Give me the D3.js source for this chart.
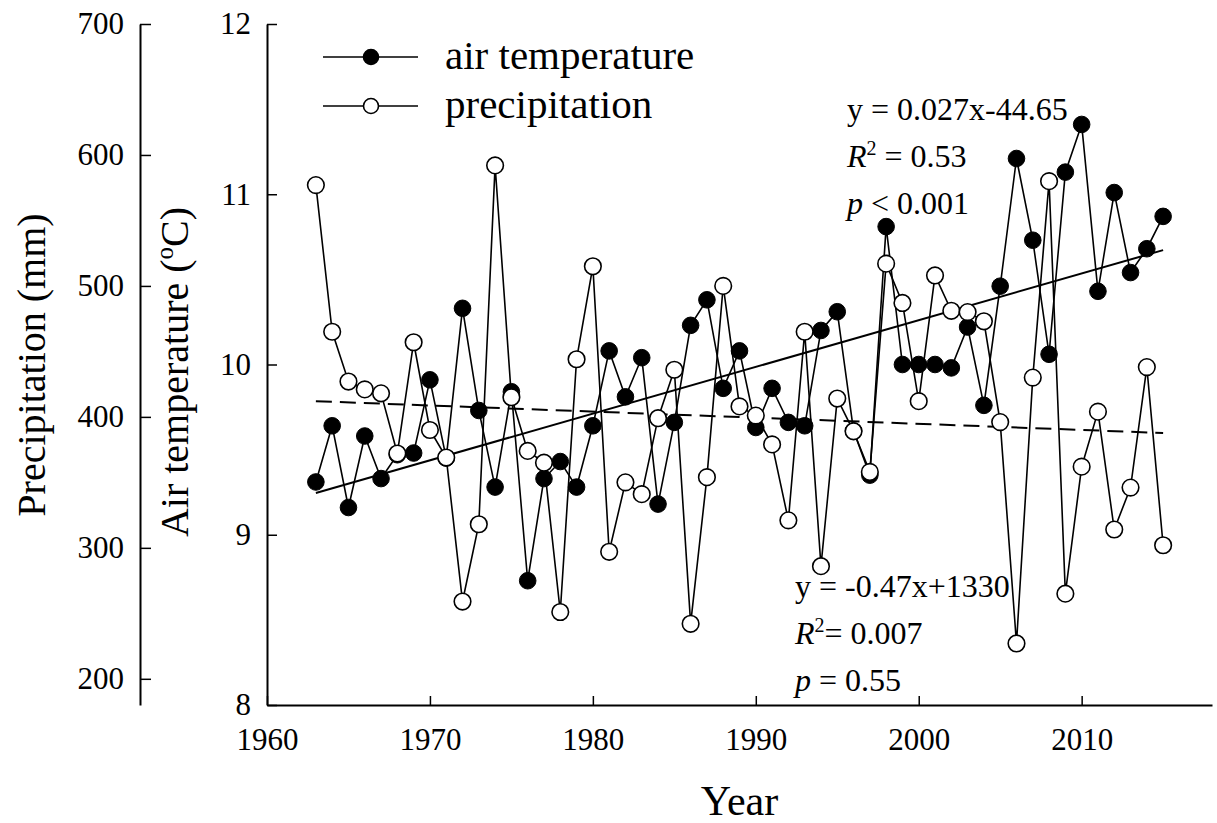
<!DOCTYPE html>
<html>
<head>
<meta charset="utf-8">
<script src="https://cdn.jsdelivr.net/npm/d3@7"></script>
<style>
  html, body { margin: 0; padding: 0; background: #fff; }
  svg, svg text { font-family: 'Liberation Serif', 'Times New Roman', serif; }
</style>
</head>
<body>
<div class="chart"></div>
<script>
const years = d3.range(1963, 2016);

// annual mean air temperature (°C)
const airTemp = [
  9.31, 9.64, 9.16, 9.58, 9.33, 9.47, 9.48, 9.91, 9.45, 10.33,
  9.73, 9.28, 9.84, 8.73, 9.33, 9.43, 9.28, 9.64, 10.08, 9.81,
  10.04, 9.18, 9.66, 10.23, 10.38, 9.86, 10.08, 9.63, 9.86, 9.66,
  9.64, 10.2, 10.31, 9.61, 9.35, 10.81, 10.0, 10.0, 10.0, 9.98,
  10.22, 9.76, 10.46, 11.21, 10.73, 10.06, 11.13, 11.41, 10.43, 11.01,
  10.54, 10.68, 10.87,
];

// annual precipitation (mm)
const precip = [
  577, 465, 427, 421, 418, 372, 457, 390, 369, 259,
  318, 592, 415, 374, 365, 251, 444, 515, 297, 350,
  341, 399, 436, 242, 354, 500, 408, 401, 379, 321,
  465, 286, 414, 389, 358, 517, 487, 412, 508, 481,
  480, 473, 396, 227, 430, 580, 265, 362, 404, 314,
  346, 438, 302,
];

const yearTicks = [1960, 1970, 1980, 1990, 2000, 2010];
const tempTicks = [8, 9, 10, 11, 12];
const precipTicks = [200, 300, 400, 500, 600, 700];

const tempFit = { eq: 'y = 0.027x-44.65', r2: ' = 0.53', p: ' < 0.001' };
const precipFit = { eq: 'y = -0.47x+1330', r2: '= 0.007', p: ' = 0.55' };

const serif = "'Liberation Serif', 'Times New Roman', serif";

function linearFit(xs, ys) {
  const mx = d3.mean(xs);
  const my = d3.mean(ys);
  const sxy = d3.sum(xs, (x, i) => (x - mx) * (ys[i] - my));
  const sxx = d3.sum(xs, (x) => (x - mx) ** 2);
  const slope = sxy / sxx;
  return (x) => my + slope * (x - mx);
}

function drawChart() {
  const width = 1217;
  const height = 823;
  const plot = { left: 267, right: 1212, top: 24, bottom: 705 };
  const precipAxisX = 140;

  const svg = d3
    .select('.chart')
    .append('svg')
    .attr('width', width)
    .attr('height', height)
    .attr('font-family', serif);

  const xScale = d3.scaleLinear().domain([1960, 2018]).range([plot.left, plot.right]);
  const tempScale = d3.scaleLinear().domain([8, 12]).range([plot.bottom, plot.top]);
  const precipScale = d3.scaleLinear().domain([180, 700]).range([plot.bottom, plot.top]);

  // axes
  const styleAxis = (g) => {
    g.attr('font-family', serif).attr('font-size', 31);
    g.select('.domain').attr('stroke', '#000').attr('stroke-width', 2);
    g.selectAll('.tick line').attr('stroke', '#000').attr('stroke-width', 1.5);
    g.selectAll('.tick text').attr('fill', '#000');
  };

  svg
    .append('g')
    .attr('transform', `translate(0, ${plot.bottom})`)
    .call(
      d3.axisBottom(xScale).tickValues(yearTicks).tickFormat(d3.format('d'))
        .tickSizeInner(-9).tickSizeOuter(0).tickPadding(23)
    )
    .call(styleAxis);

  svg
    .append('g')
    .attr('transform', `translate(${plot.left}, 0)`)
    .call(
      d3.axisLeft(tempScale).tickValues(tempTicks).tickFormat(d3.format('d'))
        .tickSizeInner(-10).tickSizeOuter(0).tickPadding(16)
    )
    .call(styleAxis);

  svg
    .append('g')
    .attr('transform', `translate(${precipAxisX}, 0)`)
    .call(
      d3.axisLeft(precipScale).tickValues(precipTicks).tickFormat(d3.format('d'))
        .tickSizeInner(-11).tickSizeOuter(0).tickPadding(16)
    )
    .call(styleAxis);

  // axis titles
  svg
    .append('text')
    .attr('transform', 'translate(45, 365) rotate(-90)')
    .attr('text-anchor', 'middle')
    .attr('font-size', 40)
    .text('Precipitation (mm)');

  const tempTitle = svg
    .append('text')
    .attr('transform', 'translate(188, 372) rotate(-90)')
    .attr('text-anchor', 'middle')
    .attr('font-size', 40);
  tempTitle.append('tspan').text('Air temperature (');
  tempTitle.append('tspan').attr('dy', -15).attr('font-size', 25).text('o');
  tempTitle.append('tspan').attr('dy', 15).text('C)');

  svg
    .append('text')
    .attr('x', (plot.left + plot.right) / 2)
    .attr('y', 815)
    .attr('text-anchor', 'middle')
    .attr('font-size', 42)
    .text('Year');

  // trend lines
  const tempTrend = linearFit(years, airTemp);
  const precipTrend = linearFit(years, precip);
  const ends = [years[0], years[years.length - 1]];

  svg
    .append('path')
    .attr('d', d3.line().x((d) => xScale(d)).y((d) => precipScale(precipTrend(d)))(ends))
    .attr('fill', 'none')
    .attr('stroke', '#000')
    .attr('stroke-width', 2)
    .attr('stroke-dasharray', '16,8');

  svg
    .append('path')
    .attr('d', d3.line().x((d) => xScale(d)).y((d) => tempScale(tempTrend(d)))(ends))
    .attr('fill', 'none')
    .attr('stroke', '#000')
    .attr('stroke-width', 2);

  // air temperature series
  const tempLine = d3.line().x((d, i) => xScale(years[i])).y((d) => tempScale(d));
  svg
    .append('path')
    .attr('d', tempLine(airTemp))
    .attr('fill', 'none')
    .attr('stroke', '#000')
    .attr('stroke-width', 1.6);

  svg
    .append('g')
    .selectAll('circle')
    .data(airTemp)
    .join('circle')
    .attr('cx', (d, i) => xScale(years[i]))
    .attr('cy', (d) => tempScale(d))
    .attr('r', 8.3)
    .attr('fill', '#000')
    .attr('stroke', '#000')
    .attr('stroke-width', 1);

  // precipitation series
  const precipLine = d3.line().x((d, i) => xScale(years[i])).y((d) => precipScale(d));
  svg
    .append('path')
    .attr('d', precipLine(precip))
    .attr('fill', 'none')
    .attr('stroke', '#000')
    .attr('stroke-width', 1.6);

  svg
    .append('g')
    .selectAll('circle')
    .data(precip)
    .join('circle')
    .attr('cx', (d, i) => xScale(years[i]))
    .attr('cy', (d) => precipScale(d))
    .attr('r', 8.3)
    .attr('fill', '#fff')
    .attr('stroke', '#000')
    .attr('stroke-width', 1.6);

  // legend
  const legendItems = [
    { label: 'air temperature', fill: '#000', y: 57 },
    { label: 'precipitation', fill: '#fff', y: 106 },
  ];
  const legend = svg.append('g').selectAll('g').data(legendItems).join('g')
    .attr('transform', (d) => `translate(323, ${d.y})`);
  legend.append('line')
    .attr('x1', 0).attr('x2', 95)
    .attr('stroke', '#000').attr('stroke-width', 1.6);
  legend.append('circle')
    .attr('cx', 48).attr('r', 7.5)
    .attr('fill', (d) => d.fill)
    .attr('stroke', '#000').attr('stroke-width', 1.6);
  legend.append('text')
    .attr('x', 122).attr('y', 12)
    .attr('font-size', 41)
    .text((d) => d.label);

  // regression annotations
  function annotate(fit, x, y0) {
    const g = svg.append('g').attr('font-size', 32);
    g.append('text').attr('x', x).attr('y', y0).text(fit.eq);
    const r = g.append('text').attr('x', x).attr('y', y0 + 47);
    r.append('tspan').attr('font-style', 'italic').text('R');
    r.append('tspan').attr('dy', -12).attr('font-size', 20).text('2');
    r.append('tspan').attr('dy', 12).text(fit.r2);
    const p = g.append('text').attr('x', x).attr('y', y0 + 94);
    p.append('tspan').attr('font-style', 'italic').text('p');
    p.append('tspan').text(fit.p);
  }

  annotate(tempFit, 847, 120);
  annotate(precipFit, 795, 597);
}

drawChart();
</script>
</body>
</html>
